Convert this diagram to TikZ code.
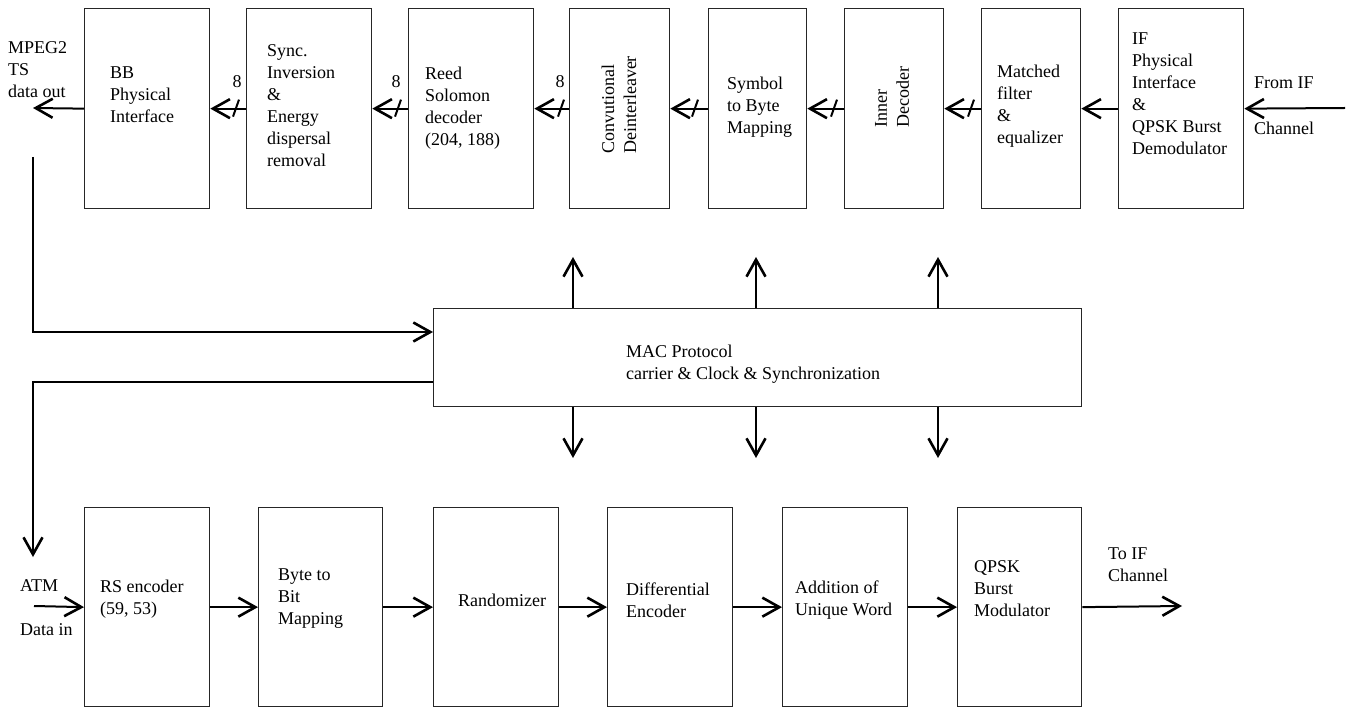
\documentclass[tikz,border=0pt]{standalone}
\usepackage{fontspec}
\setmainfont{Liberation Serif}
\usetikzlibrary{arrows.meta}
\begin{document}
\begin{tikzpicture}[x=1pt,y=-1pt,
  box/.style={draw=black!85, line width=1.3pt, minimum width=#1, minimum height=200pt, inner sep=0pt, anchor=north west},
  txt/.style={font=\fontsize{18}{22}\selectfont, align=left, inner sep=0pt, anchor=west},
  lbl/.style={font=\fontsize{18}{22}\selectfont, inner sep=0pt},
  arr/.style={line width=2pt, -{Straight Barb[length=17pt,width=19pt,line width=2.6pt]}},
  slash/.style={line width=2pt}]
\useasboundingbox (0,0) rectangle (1355,708);

% ---------- top row (receiver) ----------
\node[box=125] (bb)    at (84,8)   {};
\node[box=125] (sync)  at (246,8)  {};
\node[box=125] (rs)    at (408,8)  {};
\node[box=100] (conv)  at (569,8)  {};
\node[box=98]  (sym)   at (708,8)  {};
\node[box=99]  (inner) at (844,8)  {};
\node[box=99]  (mf)    at (981,8)  {};
\node[box=125] (ifb)   at (1118,8) {};

\node[txt] (mpeg)   at (8,70)    {MPEG2\\TS\\data out};
\node[txt] (bbt)    at (110,95)  {BB\\Physical\\Interface};
\node[txt] (synct)  at (267,106) {Sync.\\Inversion\\\&\\Energy\\dispersal\\removal};
\node[txt] (rst)    at (425,108) {Reed\\Solomon\\decoder\\(204, 188)};
\node[txt, rotate=90, anchor=center] (convt) at (619,105) {Convutional\\Deinterleaver};
\node[txt] (symt)   at (727,107) {Symbol\\to Byte\\Mapping};
\node[txt, rotate=90, anchor=center] (innert) at (892,97) {Inner\\Decoder};
\node[txt] (mft)    at (997,106) {Matched\\filter\\\&\\equalizer};
\node[txt] (ift)    at (1132,94) {IF\\Physical\\Interface\\\&\\QPSK Burst\\Demodulator};
\node[txt] (fromif) at (1254,83) {From IF};
\node[txt] (chin)   at (1254,128) {Channel};

\coordinate (ifin)    at (1345,108);
\coordinate (mpegout) at (33,108);

\draw[arr] (ifin) -- (ifb.east);
\draw[arr] (ifb.west) -- (mf.east);
\draw[arr] (mf.west) -- (inner.east);
\draw[arr] (inner.west) -- (sym.east);
\draw[arr] (sym.west) -- (conv.east);
\draw[arr] (conv.west) -- (rs.east);
\draw[arr] (rs.west) -- (sync.east);
\draw[arr] (sync.west) -- (bb.east);
\draw[arr] (bb.west) -- (mpegout);

\draw[slash] ([shift={(-13,8)}]sync.west) -- ([shift={(-7,-9)}]sync.west);
\draw[slash] ([shift={(-13,8)}]rs.west) -- ([shift={(-7,-9)}]rs.west);
\draw[slash] ([shift={(-11,8)}]conv.west) -- ([shift={(-5,-9)}]conv.west);
\draw[slash] ([shift={(-16,8)}]sym.west) -- ([shift={(-10,-9)}]sym.west);
\draw[slash] ([shift={(-13,8)}]inner.west) -- ([shift={(-7,-9)}]inner.west);
\draw[slash] ([shift={(-13,8)}]mf.west) -- ([shift={(-7,-9)}]mf.west);

\node[lbl] (w1) at (237,82) {8};
\node[lbl] (w2) at (396,82) {8};
\node[lbl] (w3) at (560,82) {8};

% ---------- MAC ----------
\node[box=648, minimum height=98] (mac) at (433,308) {};
\node[txt] (mact) at (626,364) {MAC Protocol\\carrier \& Clock \& Synchronization};

\coordinate (u1) at (573,257);
\coordinate (u2) at (756,257);
\coordinate (u3) at (938,257);
\coordinate (d1) at (573,458);
\coordinate (d2) at (756,458);
\coordinate (d3) at (938,458);
\foreach \c in {u1,u2,u3} \draw[arr] (\c |- mac.north) -- (\c);
\foreach \c in {d1,d2,d3} \draw[arr] (\c |- mac.south) -- (\c);

\coordinate (fb1) at (33,157);
\coordinate (atmdown) at (33,557);
\draw[arr] (fb1) |- ([yshift=-24pt]mac.north west);
\draw[arr] ([yshift=-74pt]mac.north west) -| (atmdown);

% ---------- bottom row (transmitter) ----------
\node[box=125, minimum height=199] (rse)  at (84,507)  {};
\node[box=124, minimum height=199] (byte) at (258,507) {};
\node[box=125, minimum height=199] (rand) at (433,507) {};
\node[box=125, minimum height=199] (diff) at (607,507) {};
\node[box=125, minimum height=199] (add)  at (782,507) {};
\node[box=124, minimum height=199] (qpsk) at (957,507) {};

\node[txt] (rset)   at (100,599) {RS encoder\\(59, 53)};
\node[txt] (bytet)  at (278,599) {Byte to\\Bit\\Mapping};
\node[txt] (randt)  at (458,600) {Randomizer};
\node[txt] (difft)  at (626,600) {Differential\\Encoder};
\node[txt] (addt)   at (795,600) {Addition of\\Unique Word};
\node[txt] (qpskt)  at (974,589) {QPSK\\Burst\\Modulator};
\node[txt] (atm)    at (20,586)  {ATM};
\node[txt] (datain) at (20,630)  {Data in};
\node[txt] (toift)  at (1108,565) {To IF\\Channel};

\coordinate (atmin) at (34,606);
\coordinate (toif)  at (1182,606);
\draw[arr] (atmin) -- (rse.west);
\draw[arr] (rse.east) -- (byte.west);
\draw[arr] (byte.east) -- (rand.west);
\draw[arr] (rand.east) -- (diff.west);
\draw[arr] (diff.east) -- (add.west);
\draw[arr] (add.east) -- (qpsk.west);
\draw[arr] (qpsk.east) -- (toif);
\end{tikzpicture}
\end{document}
